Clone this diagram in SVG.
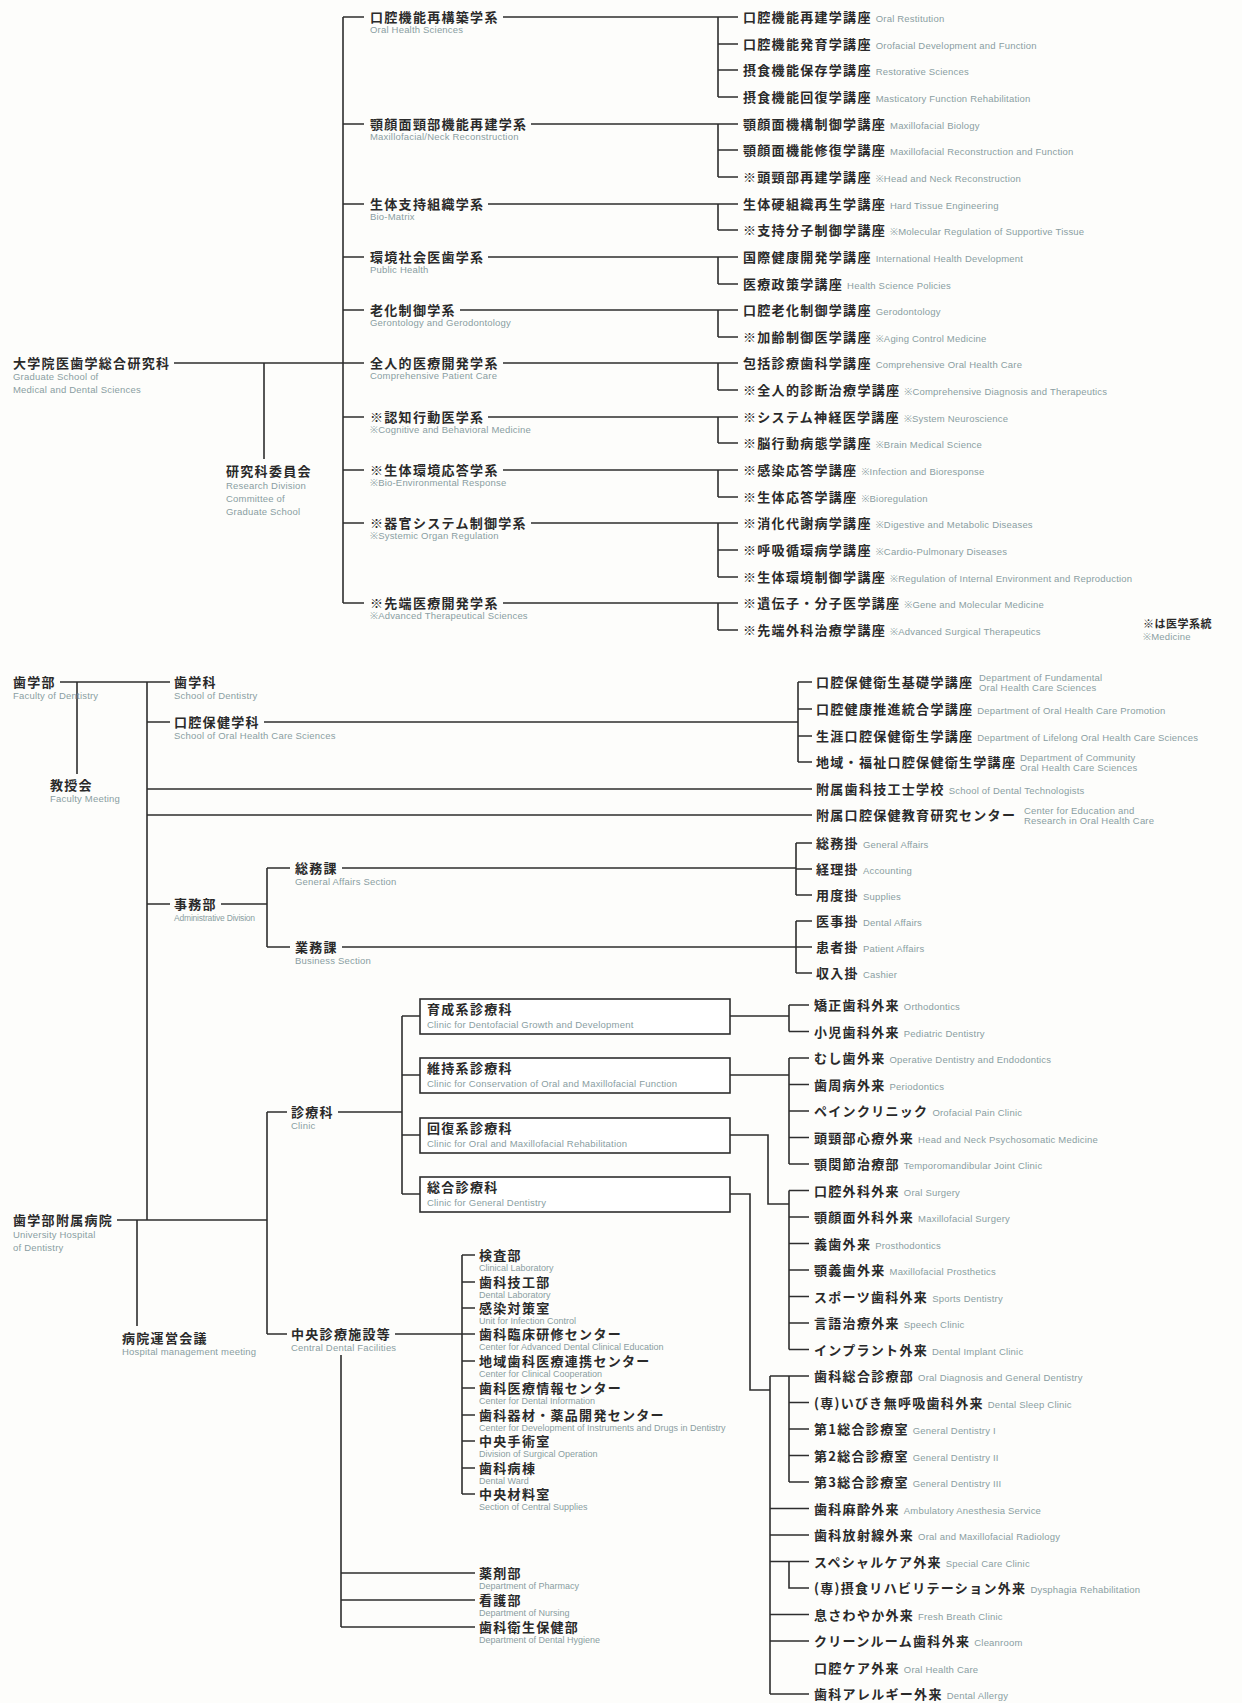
<svg xmlns="http://www.w3.org/2000/svg" width="1242" height="1703" viewBox="0 0 1242 1703">
<style>
.j{font-family:"Noto Sans CJK JP","Noto Sans CJK SC",sans-serif;font-size:13px;font-weight:700;letter-spacing:1.3px;fill:#2a2a2a}
.e{font-family:"Liberation Sans","Noto Sans",sans-serif;font-size:9.5px;font-weight:400;letter-spacing:0.2px;fill:#8a9ea2}
.s{font-family:"Liberation Sans","Noto Sans",sans-serif;font-size:9px;font-weight:400;fill:#8a9ea2}
.ln{stroke:#2e2e2e;stroke-width:1.6;fill:none}
.bx{stroke:#2e2e2e;stroke-width:1.6;fill:#ffffff}
</style>
<rect width="1242" height="1703" fill="#fdfdfb"/>
<g id="connectors" class="ln">
<path d="M343 17V603M343 17H364M343 124H364M343 204H364M343 257H364M343 310H364M343 363H364M343 417H364M343 470H364M343 523H364M343 603H364"/>
<path d="M503 17H718M531 124H718M488 204H718M488 257H718M460 310H718M503 363H718M488 417H718M503 470H718M531 523H718M503 603H718"/>
<path d="M718 17V97M718 124V177M718 204V230M718 257V284M718 310V337M718 363V390M718 417V443M718 470V497M718 523V577M718 603V630"/>
<path d="M718 17H738M718 44H738M718 70H738M718 97H738M718 124H738M718 150H738M718 177H738M718 204H738M718 230H738M718 257H738M718 284H738M718 310H738M718 337H738M718 363H738M718 390H738M718 417H738M718 443H738M718 470H738M718 497H738M718 523H738M718 550H738M718 577H738M718 603H738M718 630H738"/>
<path d="M174 363H343M264 363V459"/>
<path d="M60 682H170M77 682V774M147 682V1220M147 722H170M264 722H798M798 682V762M798 682H812M798 709H812M798 736H812M798 762H812"/>
<path d="M147 789H812M147 815H812"/>
<path d="M147 904H170M221 904H267M267 868V947M267 868H290M267 947H290M342 868H796M796 843V895M796 843H812M796 869H812M796 895H812M342 947H796M796 921V973M796 921H812M796 947H812M796 973H812"/>
<path d="M117 1220H267M137 1220V1326M267 1112V1334M267 1112H287M267 1334H287M338 1112H402M402 1016V1194M402 1016H420M402 1075H420M402 1135H420M402 1194H420"/>
<path d="M730 1016H789M789 1005V1031.5M789 1005H809M789 1031.5H809"/>
<path d="M730 1075H789M789 1058V1164M789 1058H809M789 1084.5H809M789 1111H809M789 1137.5H809M789 1164H809"/>
<path d="M730 1135H768V1204H789M789 1190.5V1349.5M789 1190.5H809M789 1217H809M789 1243.5H809M789 1270H809M789 1296.5H809M789 1323H809M789 1349.5H809"/>
<path d="M730 1194H750V1390H770M770 1376V1694M770 1376H809M770 1508.5H809M770 1535H809M770 1561.5H809M770 1614.5H809M770 1641H809M770 1694H809"/>
<path d="M789 1376V1482M789 1402.5H809M789 1429H809M789 1455.5H809M789 1482H809M789 1561.5V1588H809"/>
<path d="M395 1334H475M462 1255V1494M462 1255H475M462 1282H475M462 1308H475M462 1361H475M462 1388H475M462 1415H475M462 1441H475M462 1468H475M462 1494H475"/>
<path d="M341 1355V1627M341 1573H475M341 1600H475M341 1627H475"/>
</g>
<g id="grad-school"><text class="j" x="13" y="368">大学院医歯学総合研究科</text><text class="e" x="13" y="380">Graduate School of</text><text class="e" x="13" y="393">Medical and Dental Sciences</text></g>
<g id="committee"><text class="j" x="226" y="476">研究科委員会</text><text class="e" x="226" y="489">Research Division</text><text class="e" x="226" y="502">Committee of</text><text class="e" x="226" y="515">Graduate School</text></g>
<g id="sys1"><text class="j" x="370" y="22">口腔機能再構築学系</text><text class="e" x="370" y="33">Oral Health Sciences</text></g>
<g id="sys2"><text class="j" x="370" y="129">顎顔面頸部機能再建学系</text><text class="e" x="370" y="140">Maxillofacial/Neck Reconstruction</text></g>
<g id="sys3"><text class="j" x="370" y="209">生体支持組織学系</text><text class="e" x="370" y="220">Bio-Matrix</text></g>
<g id="sys4"><text class="j" x="370" y="262">環境社会医歯学系</text><text class="e" x="370" y="273">Public Health</text></g>
<g id="sys5"><text class="j" x="370" y="315">老化制御学系</text><text class="e" x="370" y="326">Gerontology and Gerodontology</text></g>
<g id="sys6"><text class="j" x="370" y="368">全人的医療開発学系</text><text class="e" x="370" y="379">Comprehensive Patient Care</text></g>
<g id="sys7"><text class="j" x="370" y="422">※認知行動医学系</text><text class="e" x="370" y="433">※Cognitive and Behavioral Medicine</text></g>
<g id="sys8"><text class="j" x="370" y="475">※生体環境応答学系</text><text class="e" x="370" y="486">※Bio-Environmental Response</text></g>
<g id="sys9"><text class="j" x="370" y="528">※器官システム制御学系</text><text class="e" x="370" y="539">※Systemic Organ Regulation</text></g>
<g id="sys10"><text class="j" x="370" y="608">※先端医療開発学系</text><text class="e" x="370" y="619">※Advanced Therapeutical Sciences</text></g>
<g id="courses">
<g id="c0"><text class="j" x="743" y="22">口腔機能再建学講座<tspan class="e" dx="4">Oral Restitution</tspan></text></g>
<g id="c1"><text class="j" x="743" y="49">口腔機能発育学講座<tspan class="e" dx="4">Orofacial Development and Function</tspan></text></g>
<g id="c2"><text class="j" x="743" y="75">摂食機能保存学講座<tspan class="e" dx="4">Restorative Sciences</tspan></text></g>
<g id="c3"><text class="j" x="743" y="102">摂食機能回復学講座<tspan class="e" dx="4">Masticatory Function Rehabilitation</tspan></text></g>
<g id="c4"><text class="j" x="743" y="129">顎顔面機構制御学講座<tspan class="e" dx="4">Maxillofacial Biology</tspan></text></g>
<g id="c5"><text class="j" x="743" y="155">顎顔面機能修復学講座<tspan class="e" dx="4">Maxillofacial Reconstruction and Function</tspan></text></g>
<g id="c6"><text class="j" x="743" y="182">※頭頸部再建学講座<tspan class="e" dx="4">※Head and Neck Reconstruction</tspan></text></g>
<g id="c7"><text class="j" x="743" y="209">生体硬組織再生学講座<tspan class="e" dx="4">Hard Tissue Engineering</tspan></text></g>
<g id="c8"><text class="j" x="743" y="235">※支持分子制御学講座<tspan class="e" dx="4">※Molecular Regulation of Supportive Tissue</tspan></text></g>
<g id="c9"><text class="j" x="743" y="262">国際健康開発学講座<tspan class="e" dx="4">International Health Development</tspan></text></g>
<g id="c10"><text class="j" x="743" y="289">医療政策学講座<tspan class="e" dx="4">Health Science Policies</tspan></text></g>
<g id="c11"><text class="j" x="743" y="315">口腔老化制御学講座<tspan class="e" dx="4">Gerodontology</tspan></text></g>
<g id="c12"><text class="j" x="743" y="342">※加齢制御医学講座<tspan class="e" dx="4">※Aging Control Medicine</tspan></text></g>
<g id="c13"><text class="j" x="743" y="368">包括診療歯科学講座<tspan class="e" dx="4">Comprehensive Oral Health Care</tspan></text></g>
<g id="c14"><text class="j" x="743" y="395">※全人的診断治療学講座<tspan class="e" dx="4">※Comprehensive Diagnosis and Therapeutics</tspan></text></g>
<g id="c15"><text class="j" x="743" y="422">※システム神経医学講座<tspan class="e" dx="4">※System Neuroscience</tspan></text></g>
<g id="c16"><text class="j" x="743" y="448">※脳行動病態学講座<tspan class="e" dx="4">※Brain Medical Science</tspan></text></g>
<g id="c17"><text class="j" x="743" y="475">※感染応答学講座<tspan class="e" dx="4">※Infection and Bioresponse</tspan></text></g>
<g id="c18"><text class="j" x="743" y="502">※生体応答学講座<tspan class="e" dx="4">※Bioregulation</tspan></text></g>
<g id="c19"><text class="j" x="743" y="528">※消化代謝病学講座<tspan class="e" dx="4">※Digestive and Metabolic Diseases</tspan></text></g>
<g id="c20"><text class="j" x="743" y="555">※呼吸循環病学講座<tspan class="e" dx="4">※Cardio-Pulmonary Diseases</tspan></text></g>
<g id="c21"><text class="j" x="743" y="582">※生体環境制御学講座<tspan class="e" dx="4">※Regulation of Internal Environment and Reproduction</tspan></text></g>
<g id="c22"><text class="j" x="743" y="608">※遺伝子・分子医学講座<tspan class="e" dx="4">※Gene and Molecular Medicine</tspan></text></g>
<g id="c23"><text class="j" x="743" y="635">※先端外科治療学講座<tspan class="e" dx="4">※Advanced Surgical Therapeutics</tspan></text></g>
</g>
<g id="note"><text class="j" x="1143" y="628" style="font-size:11px;letter-spacing:0.5px">※は医学系統</text><text class="e" x="1143" y="640">※Medicine</text></g>
<g id="faculty"><text class="j" x="13" y="687">歯学部</text><text class="e" x="13" y="699">Faculty of Dentistry</text></g>
<g id="faculty-meeting"><text class="j" x="50" y="790">教授会</text><text class="e" x="50" y="802">Faculty Meeting</text></g>
<g id="school-dent"><text class="j" x="174" y="687">歯学科</text><text class="e" x="174" y="699">School of Dentistry</text></g>
<g id="school-ohc"><text class="j" x="174" y="727">口腔保健学科</text><text class="e" x="174" y="739">School of Oral Health Care Sciences</text></g>
<g id="ohc1"><text class="j" x="816" y="687">口腔保健衛生基礎学講座</text><text class="e" x="979" y="681">Department of Fundamental</text><text class="e" x="979" y="691">Oral Health Care Sciences</text></g>
<g id="ohc2"><text class="j" x="816" y="714">口腔健康推進統合学講座<tspan class="e" dx="4">Department of Oral Health Care Promotion</tspan></text></g>
<g id="ohc3"><text class="j" x="816" y="741">生涯口腔保健衛生学講座<tspan class="e" dx="4">Department of Lifelong Oral Health Care Sciences</tspan></text></g>
<g id="ohc4"><text class="j" x="816" y="767">地域・福祉口腔保健衛生学講座</text><text class="e" x="1020" y="761">Department of Community</text><text class="e" x="1020" y="771">Oral Health Care Sciences</text></g>
<g id="tech-school"><text class="j" x="816" y="794">附属歯科技工士学校<tspan class="e" dx="4">School of Dental Technologists</tspan></text></g>
<g id="ohc-center"><text class="j" x="816" y="820">附属口腔保健教育研究センター</text><text class="e" x="1024" y="814">Center for Education and</text><text class="e" x="1024" y="824">Research in Oral Health Care</text></g>
<g id="admin"><text class="j" x="174" y="909">事務部</text><text class="s" x="174" y="921" style="font-size:8.5px;letter-spacing:-0.2px">Administrative Division</text></g>
<g id="gen-affairs"><text class="j" x="295" y="873">総務課</text><text class="e" x="295" y="885">General Affairs Section</text></g>
<g id="business"><text class="j" x="295" y="952">業務課</text><text class="e" x="295" y="964">Business Section</text></g>
<g id="a1"><text class="j" x="816" y="848">総務掛<tspan class="e" dx="4">General Affairs</tspan></text></g>
<g id="a2"><text class="j" x="816" y="874">経理掛<tspan class="e" dx="4">Accounting</tspan></text></g>
<g id="a3"><text class="j" x="816" y="900">用度掛<tspan class="e" dx="4">Supplies</tspan></text></g>
<g id="a4"><text class="j" x="816" y="926">医事掛<tspan class="e" dx="4">Dental Affairs</tspan></text></g>
<g id="a5"><text class="j" x="816" y="952">患者掛<tspan class="e" dx="4">Patient Affairs</tspan></text></g>
<g id="a6"><text class="j" x="816" y="978">収入掛<tspan class="e" dx="4">Cashier</tspan></text></g>
<g id="hospital"><text class="j" x="13" y="1225">歯学部附属病院</text><text class="e" x="13" y="1238">University Hospital</text><text class="e" x="13" y="1251">of Dentistry</text></g>
<g id="hosp-meeting"><text class="j" x="122" y="1343">病院運営会議</text><text class="e" x="122" y="1355">Hospital management meeting</text></g>
<g id="clinic"><text class="j" x="291" y="1117">診療科</text><text class="e" x="291" y="1129">Clinic</text></g>
<g id="central"><text class="j" x="291" y="1339">中央診療施設等</text><text class="e" x="291" y="1351">Central Dental Facilities</text></g>
<g id="box1"><rect class="bx" x="420" y="999" width="310" height="35"/><text class="j" x="427" y="1014">育成系診療科</text><text class="e" x="427" y="1028">Clinic for Dentofacial Growth and Development</text></g>
<g id="box2"><rect class="bx" x="420" y="1058" width="310" height="35"/><text class="j" x="427" y="1073">維持系診療科</text><text class="e" x="427" y="1087">Clinic for Conservation of Oral and Maxillofacial Function</text></g>
<g id="box3"><rect class="bx" x="420" y="1118" width="310" height="35"/><text class="j" x="427" y="1133">回復系診療科</text><text class="e" x="427" y="1147">Clinic for Oral and Maxillofacial Rehabilitation</text></g>
<g id="box4"><rect class="bx" x="420" y="1177" width="310" height="35"/><text class="j" x="427" y="1192">総合診療科</text><text class="e" x="427" y="1206">Clinic for General Dentistry</text></g>
<g id="clinics">
<g id="k0"><text class="j" x="814" y="1010">矯正歯科外来<tspan class="e" dx="4">Orthodontics</tspan></text></g>
<g id="k1"><text class="j" x="814" y="1036.5">小児歯科外来<tspan class="e" dx="4">Pediatric Dentistry</tspan></text></g>
<g id="k2"><text class="j" x="814" y="1063">むし歯外来<tspan class="e" dx="4">Operative Dentistry and Endodontics</tspan></text></g>
<g id="k3"><text class="j" x="814" y="1089.5">歯周病外来<tspan class="e" dx="4">Periodontics</tspan></text></g>
<g id="k4"><text class="j" x="814" y="1116">ペインクリニック<tspan class="e" dx="4">Orofacial Pain Clinic</tspan></text></g>
<g id="k5"><text class="j" x="814" y="1142.5">頭頸部心療外来<tspan class="e" dx="4">Head and Neck Psychosomatic Medicine</tspan></text></g>
<g id="k6"><text class="j" x="814" y="1169">顎関節治療部<tspan class="e" dx="4">Temporomandibular Joint Clinic</tspan></text></g>
<g id="k7"><text class="j" x="814" y="1195.5">口腔外科外来<tspan class="e" dx="4">Oral Surgery</tspan></text></g>
<g id="k8"><text class="j" x="814" y="1222">顎顔面外科外来<tspan class="e" dx="4">Maxillofacial Surgery</tspan></text></g>
<g id="k9"><text class="j" x="814" y="1248.5">義歯外来<tspan class="e" dx="4">Prosthodontics</tspan></text></g>
<g id="k10"><text class="j" x="814" y="1275">顎義歯外来<tspan class="e" dx="4">Maxillofacial Prosthetics</tspan></text></g>
<g id="k11"><text class="j" x="814" y="1301.5">スポーツ歯科外来<tspan class="e" dx="4">Sports Dentistry</tspan></text></g>
<g id="k12"><text class="j" x="814" y="1328">言語治療外来<tspan class="e" dx="4">Speech Clinic</tspan></text></g>
<g id="k13"><text class="j" x="814" y="1354.5">インプラント外来<tspan class="e" dx="4">Dental Implant Clinic</tspan></text></g>
<g id="k14"><text class="j" x="814" y="1381">歯科総合診療部<tspan class="e" dx="4">Oral Diagnosis and General Dentistry</tspan></text></g>
<g id="k15"><text class="j" x="814" y="1407.5">(専)いびき無呼吸歯科外来<tspan class="e" dx="4">Dental Sleep Clinic</tspan></text></g>
<g id="k16"><text class="j" x="814" y="1434">第1総合診療室<tspan class="e" dx="4">General Dentistry I</tspan></text></g>
<g id="k17"><text class="j" x="814" y="1460.5">第2総合診療室<tspan class="e" dx="4">General Dentistry II</tspan></text></g>
<g id="k18"><text class="j" x="814" y="1487">第3総合診療室<tspan class="e" dx="4">General Dentistry III</tspan></text></g>
<g id="k19"><text class="j" x="814" y="1513.5">歯科麻酔外来<tspan class="e" dx="4">Ambulatory Anesthesia Service</tspan></text></g>
<g id="k20"><text class="j" x="814" y="1540">歯科放射線外来<tspan class="e" dx="4">Oral and Maxillofacial Radiology</tspan></text></g>
<g id="k21"><text class="j" x="814" y="1566.5">スペシャルケア外来<tspan class="e" dx="4">Special Care Clinic</tspan></text></g>
<g id="k22"><text class="j" x="814" y="1593">(専)摂食リハビリテーション外来<tspan class="e" dx="4">Dysphagia Rehabilitation</tspan></text></g>
<g id="k23"><text class="j" x="814" y="1619.5">息さわやか外来<tspan class="e" dx="4">Fresh Breath Clinic</tspan></text></g>
<g id="k24"><text class="j" x="814" y="1646">クリーンルーム歯科外来<tspan class="e" dx="4">Cleanroom</tspan></text></g>
<g id="k25"><text class="j" x="814" y="1672.5">口腔ケア外来<tspan class="e" dx="4">Oral Health Care</tspan></text></g>
<g id="k26"><text class="j" x="814" y="1699">歯科アレルギー外来<tspan class="e" dx="4">Dental Allergy</tspan></text></g>
</g>
<g id="facilities">
<g id="f0"><text class="j" x="479" y="1260">検査部</text><text class="s" x="479" y="1271">Clinical Laboratory</text></g>
<g id="f1"><text class="j" x="479" y="1287">歯科技工部</text><text class="s" x="479" y="1298">Dental Laboratory</text></g>
<g id="f2"><text class="j" x="479" y="1313">感染対策室</text><text class="s" x="479" y="1324">Unit for Infection Control</text></g>
<g id="f3"><text class="j" x="479" y="1339">歯科臨床研修センター</text><text class="s" x="479" y="1350">Center for Advanced Dental Clinical Education</text></g>
<g id="f4"><text class="j" x="479" y="1366">地域歯科医療連携センター</text><text class="s" x="479" y="1377">Center for Clinical Cooperation</text></g>
<g id="f5"><text class="j" x="479" y="1393">歯科医療情報センター</text><text class="s" x="479" y="1404">Center for Dental Information</text></g>
<g id="f6"><text class="j" x="479" y="1420">歯科器材・薬品開発センター</text><text class="s" x="479" y="1431">Center for Development of Instruments and Drugs in Dentistry</text></g>
<g id="f7"><text class="j" x="479" y="1446">中央手術室</text><text class="s" x="479" y="1457">Division of Surgical Operation</text></g>
<g id="f8"><text class="j" x="479" y="1473">歯科病棟</text><text class="s" x="479" y="1484">Dental Ward</text></g>
<g id="f9"><text class="j" x="479" y="1499">中央材料室</text><text class="s" x="479" y="1510">Section of Central Supplies</text></g>
<g id="f10"><text class="j" x="479" y="1578">薬剤部</text><text class="s" x="479" y="1589">Department of Pharmacy</text></g>
<g id="f11"><text class="j" x="479" y="1605">看護部</text><text class="s" x="479" y="1616">Department of Nursing</text></g>
<g id="f12"><text class="j" x="479" y="1632">歯科衛生保健部</text><text class="s" x="479" y="1643">Department of Dental Hygiene</text></g>
</g>
</svg>
